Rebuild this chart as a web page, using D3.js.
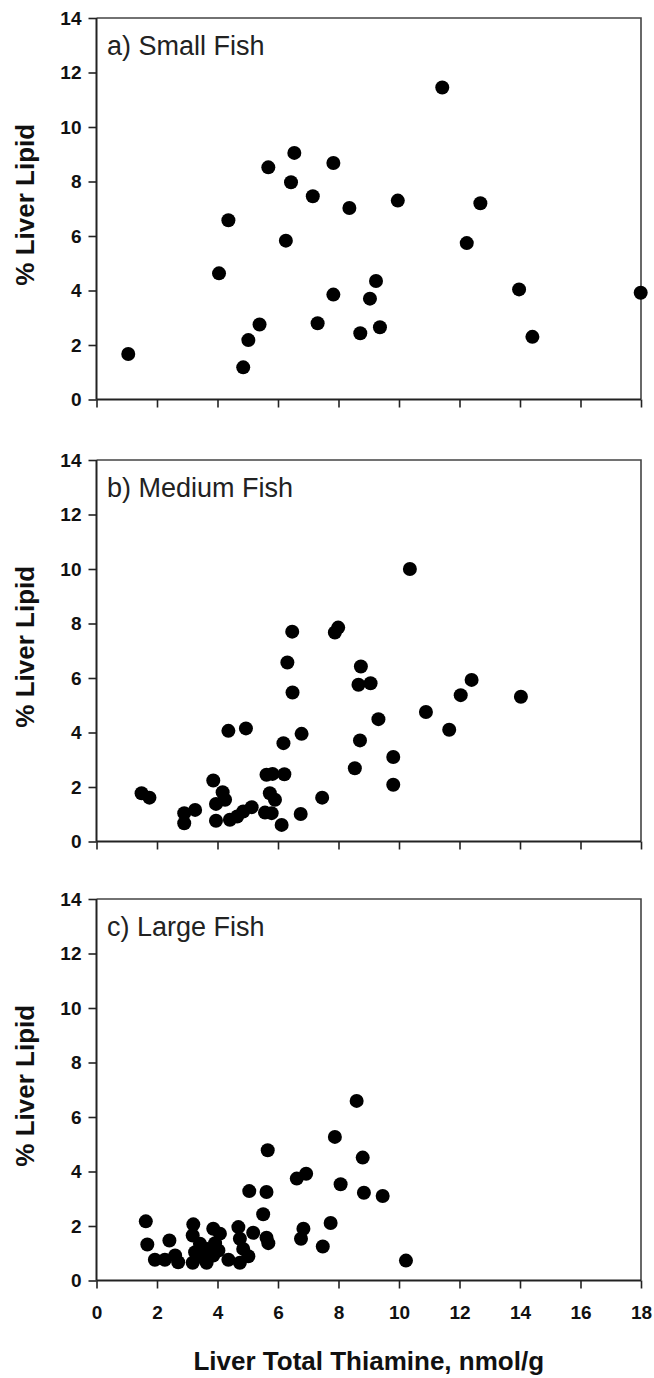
<!DOCTYPE html>
<html>
<head>
<meta charset="utf-8">
<script src="https://cdn.jsdelivr.net/npm/d3@7"></script>
<style>
  body { margin: 0; background: #fff; }
  svg { display: block; font-family: "Liberation Sans", Arial, sans-serif; }
</style>
</head>
<body>
<div id="chart"></div>
<script>
// thiamine (x) and liver lipid (y)
const smallX = [1.05, 4.05, 4.36, 4.85, 5.02, 5.39, 5.68, 6.26, 6.43, 6.54, 7.15, 7.31,
  7.83, 8.36, 9.96, 11.43, 12.69, 12.24, 7.83, 9.24, 9.04, 8.72, 9.37, 13.97, 14.41, 17.99];
const smallY = [1.67, 4.63, 6.58, 1.18, 2.18, 2.75, 8.52, 5.83, 7.97, 9.05, 7.46, 2.8,
  8.68, 7.03, 7.3, 11.45, 7.2, 5.74, 3.85, 4.35, 3.7, 2.43, 2.65, 4.04, 2.3, 3.92];

const mediumX = [1.49, 1.75, 2.9, 2.9, 3.26, 3.86, 3.95, 3.95, 4.17, 4.25, 4.36, 4.41, 4.65,
  4.85, 4.94, 5.13, 5.57, 5.62, 5.73, 5.82, 5.79, 5.9, 6.12, 6.18, 6.21, 6.31, 6.47, 6.48,
  6.75, 6.78, 7.46, 7.88, 7.99, 10.36, 8.74, 8.66, 9.06, 9.32, 8.71, 8.54, 9.81, 9.81,
  10.89, 11.66, 12.04, 12.4, 14.03];
const mediumY = [1.77, 1.61, 1.04, 0.67, 1.16, 2.24, 1.38, 0.76, 1.81, 1.53, 4.06, 0.8, 0.92,
  1.1, 4.15, 1.26, 1.06, 2.45, 1.77, 2.48, 1.04, 1.53, 0.61, 3.61, 2.47, 6.57, 7.7, 5.47,
  1.01, 3.95, 1.61, 7.67, 7.85, 10.0, 6.42, 5.75, 5.81, 4.49, 3.71, 2.69, 3.1, 2.08,
  4.75, 4.1, 5.37, 5.93, 5.31];

const largeX = [1.63, 1.68, 1.93, 2.26, 2.41, 2.6, 2.7, 3.2, 3.18, 3.18, 3.26, 3.42, 3.48,
  3.64, 3.66, 3.86, 3.86, 3.92, 4.08, 4.03, 4.36, 4.69, 4.74, 4.74, 4.85, 5.02, 5.18,
  5.05, 5.51, 5.62, 5.66, 5.62, 5.68, 6.62, 6.93, 6.84, 6.76, 7.48, 7.88, 8.6, 8.8,
  8.07, 8.84, 9.46, 7.74, 10.23];
const largeY = [2.17, 1.32, 0.76, 0.76, 1.47, 0.92, 0.67, 2.06, 1.65, 0.65, 1.04, 1.35, 0.86,
  0.65, 1.16, 1.9, 0.92, 1.37, 1.72, 1.1, 0.76, 1.96, 1.53, 0.65, 1.16, 0.89, 1.75,
  3.28, 2.43, 3.25, 4.78, 1.57, 1.37, 3.74, 3.92, 1.9, 1.53, 1.25, 5.27, 6.59, 4.51,
  3.53, 3.22, 3.1, 2.11, 0.73];

const panelLabels = ["a) Small Fish", "b) Medium Fish", "c) Large Fish"];
const xTicks = [0, 2, 4, 6, 8, 10, 12, 14, 16, 18];
const yTicks = [0, 2, 4, 6, 8, 10, 12, 14];

const W = 654, H = 1378;
const left = 96.5, right = 641;
const panelTops = [18, 460, 899];
const panelH = 381.5;

const panels = [
  { label: panelLabels[0], xs: smallX, ys: smallY },
  { label: panelLabels[1], xs: mediumX, ys: mediumY },
  { label: panelLabels[2], xs: largeX, ys: largeY }
];

const svg = d3.select("#chart").append("svg")
  .attr("width", W)
  .attr("height", H);

const x = d3.scaleLinear().domain([0, 18]).range([left, right]);

function styleTicks(sel) {
  sel.attr("font-family", null).attr("font-size", null);
  sel.selectAll(".tick text")
    .style("font-size", "19px")
    .style("font-weight", "bold")
    .style("font-family", "'Liberation Sans', Arial, sans-serif")
    .style("fill", "#111");
  sel.selectAll(".tick line").attr("stroke", "#222").attr("stroke-width", 1.6);
}

panels.forEach(function (p, i) {
  const top = panelTops[i];
  const y = d3.scaleLinear().domain([0, 14]).range([top + panelH, top]);
  const g = svg.append("g");

  // frame: top and right
  g.append("path")
    .attr("d", `M${left},${top}H${right}V${top + panelH}`)
    .attr("fill", "none")
    .attr("stroke", "#444")
    .attr("stroke-width", 1.6);

  const yAxis = g.append("g")
    .attr("transform", `translate(${left},0)`)
    .call(d3.axisLeft(y).tickValues(yTicks).tickSize(8).tickPadding(7));
  yAxis.select(".domain").attr("stroke", "#222").attr("stroke-width", 2).attr("d", `M0,${top}V${top + panelH}`);
  styleTicks(yAxis);

  const xAxis = g.append("g")
    .attr("transform", `translate(0,${top + panelH})`)
    .call(d3.axisBottom(x).tickValues(xTicks).tickSize(8).tickPadding(17)
      .tickFormat(i === 2 ? d3.format("d") : ""));
  xAxis.select(".domain").attr("stroke", "#222").attr("stroke-width", 2).attr("d", `M${left},0H${right}`);
  styleTicks(xAxis);

  g.append("text")
    .attr("x", 107)
    .attr("y", top + 37)
    .attr("font-size", 27)
    .attr("fill", "#222")
    .text(p.label);

  g.append("text")
    .attr("transform", `translate(34,${top + panelH / 2 - 4}) rotate(-90)`)
    .attr("text-anchor", "middle")
    .attr("font-size", 26)
    .attr("font-weight", "bold")
    .attr("fill", "#111")
    .text("% Liver Lipid");

  g.selectAll("circle")
    .data(p.xs.map((v, k) => [v, p.ys[k]]))
    .join("circle")
    .attr("cx", (d) => x(d[0]))
    .attr("cy", (d) => y(d[1]))
    .attr("r", 7)
    .attr("fill", "#000");
});

svg.append("text")
  .attr("x", (left + right) / 2)
  .attr("y", 1370)
  .attr("text-anchor", "middle")
  .attr("font-size", 26)
  .attr("font-weight", "bold")
  .attr("fill", "#111")
  .text("Liver Total Thiamine, nmol/g");
</script>
</body>
</html>
